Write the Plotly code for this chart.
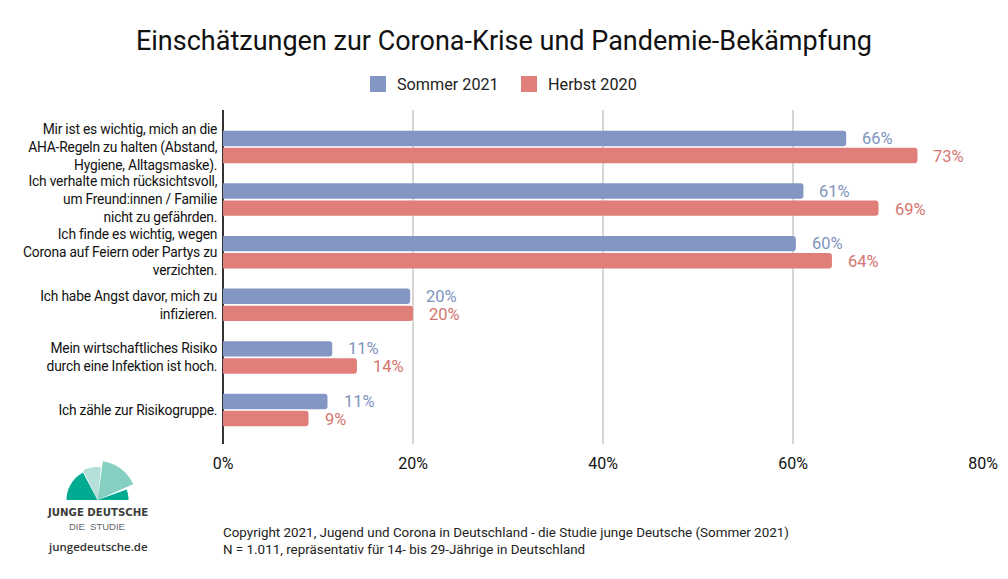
import numpy as np
import plotly.graph_objects as go

WIDTH = 1008
HEIGHT = 579
M_L, M_R, M_T, M_B = 223, 25, 110, 135

categories = [
    "Mir ist es wichtig, mich an die<br>AHA-Regeln zu halten (Abstand,<br>Hygiene, Alltagsmaske).",
    "Ich verhalte mich rücksichtsvoll,<br>um Freund:innen / Familie<br>nicht zu gefährden.",
    "Ich finde es wichtig, wegen<br>Corona auf Feiern oder Partys zu<br>verzichten.",
    "Ich habe Angst davor, mich zu<br>infizieren.",
    "Mein wirtschaftliches Risiko<br>durch eine Infektion ist hoch.",
    "Ich zähle zur Risikogruppe.",
]
sommer_2021 = [65.6, 61.1, 60.3, 19.7, 11.5, 11.0]
herbst_2020 = [73.1, 69.0, 64.1, 20.0, 14.1, 9.0]
sommer_labels = ["66%", "61%", "60%", "20%", "11%", "11%"]
herbst_labels = ["73%", "69%", "64%", "20%", "14%", "9%"]
x_ticks = [0, 20, 40, 60, 80]

BLUE = "#8496c4"
RED = "#e07f7a"
BLUE_TXT = "#8093bd"
RED_TXT = "#d4756f"
FONT = "Roboto"


def px(x):
    return (x - M_L) / (WIDTH - M_L - M_R)


def py(y):
    return 1 - (y - M_T) / (HEIGHT - M_T - M_B)


def wedge(cx, cy, r, a0, a1):
    # pie piece for the logo, angles in degrees, counter clockwise from east
    angles = np.radians(np.linspace(a0, a1, 24))
    path = f"M {px(cx):.4f} {py(cy):.4f}"
    for a in angles:
        path += f" L {px(cx + r * np.cos(a)):.4f} {py(cy - r * np.sin(a)):.4f}"
    return path + " Z"


fig = go.Figure()
fig.add_trace(go.Bar(y=categories, x=sommer_2021, name="Sommer 2021", orientation="h",
                     marker_color=BLUE, marker_line_width=0))
fig.add_trace(go.Bar(y=categories, x=herbst_2020, name="Herbst 2020", orientation="h",
                     marker_color=RED, marker_line_width=0))

# value labels sit well away from the bar ends
for i in range(len(categories)):
    fig.add_annotation(x=sommer_2021[i], y=categories[i], text=sommer_labels[i], showarrow=False,
                       xanchor="left", xshift=14, yshift=8.5,
                       font=dict(family=FONT, size=16.5, color=BLUE_TXT))
    fig.add_annotation(x=herbst_2020[i], y=categories[i], text=herbst_labels[i], showarrow=False,
                       xanchor="left", xshift=14, yshift=-9.5,
                       font=dict(family=FONT, size=16.5, color=RED_TXT))

# logo and the legend swatches
shapes = [
    dict(type="path", path=wedge(97.5, 500, 31, 180, 118), fillcolor="#00ab92"),
    dict(type="path", path=wedge(97.5, 500, 31, 20, 0), fillcolor="#00ab92"),
    dict(type="path", path=wedge(97.5, 500, 33, 116, 84), fillcolor="#b5e0d9"),
    dict(type="path", path=wedge(97.5, 500, 39, 82, 24), fillcolor="#85d0c2"),
    dict(type="rect", x0=px(370), x1=px(386), y0=py(92), y1=py(76), fillcolor=BLUE),
    dict(type="rect", x0=px(521), x1=px(537), y0=py(92), y1=py(76), fillcolor=RED),
]
for s in shapes:
    s.update(xref="paper", yref="paper", line_width=0, layer="above")

texts = [
    (396, 85, "Sommer 2021", FONT, 16.2, "#222222", "left", 400),
    (547, 85, "Herbst 2020", FONT, 16.2, "#222222", "left", 400),
    (97.5, 512, "<b>JUNGE DEUTSCHE</b>", "DejaVu Sans Condensed", 11.3, "#3c3c3c", "center", 400),
    (97, 526, "DIE  STUDIE", "Liberation Sans", 9.5, "#666666", "center", 400),
    (98.5, 546, "jungedeutsche.de", "Open Sans", 11.5, "#333333", "center", 600),
    (222, 532, "Copyright 2021, Jugend und Corona in Deutschland - die Studie junge Deutsche (Sommer 2021)",
     FONT, 13.4, "#222222", "left", 400),
    (222, 549, "N = 1.011, repräsentativ für 14- bis 29-Jährige in Deutschland", FONT, 13.4, "#222222", "left", 400),
]
for x, y, text, family, size, color, anchor, weight in texts:
    fig.add_annotation(xref="paper", yref="paper", x=px(x), y=py(y), text=text, showarrow=False,
                       xanchor=anchor, xshift=-1 if anchor == "left" else 0, yanchor="middle",
                       font=dict(family=family, size=size, color=color, weight=weight))

fig.update_layout(
    width=WIDTH, height=HEIGHT,
    margin=dict(l=M_L, r=M_R, t=M_T, b=M_B),
    paper_bgcolor="white", plot_bgcolor="white",
    font=dict(family=FONT, color="#111111"),
    title=dict(text="Einschätzungen zur Corona-Krise und Pandemie-Bekämpfung",
               x=504 / WIDTH, xanchor="center", y=1 - 41 / HEIGHT, yanchor="middle",
               font=dict(family=FONT, size=27, color="#111111")),
    barmode="group", bargap=0.35, bargroupgap=0.1, barcornerradius=3,
    showlegend=False,
    shapes=shapes,
)
fig.update_xaxes(range=[0, 80], tickvals=x_ticks, ticktext=[f"{t}%" for t in x_ticks],
                 automargin=False,
                 showgrid=True, gridcolor="#d6d6d6", gridwidth=1.5,
                 zeroline=True, zerolinecolor="#333333", zerolinewidth=1.5,
                 ticks="outside", ticklen=5, tickcolor="rgba(0,0,0,0)",
                 tickfont=dict(family=FONT, size=16, color="#111111"))
fig.update_yaxes(categoryorder="array", categoryarray=categories, range=[5.646, -0.703],
                 automargin=False,
                 showline=False, ticks="outside", ticklen=2, tickcolor="rgba(0,0,0,0)",
                 tickfont=dict(family=FONT, size=13.8, color="#111111"))

# page margin off, tighter letters on the question labels
post = """document.body.style.margin = '0';
document.querySelectorAll('.ytick text').forEach(function (t) { t.style.letterSpacing = '-0.2px'; });"""
fig.write_html("out.html", post_script=post, config=dict(displayModeBar=False))
